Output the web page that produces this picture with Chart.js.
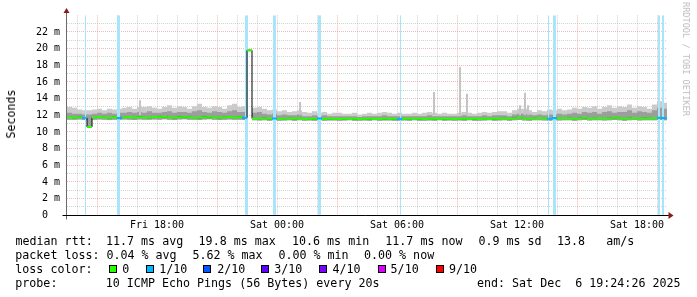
<!DOCTYPE html>
<html>
<head>
<meta charset="utf-8">
<script src="https://cdn.jsdelivr.net/npm/chart.js@4.4.1/dist/chart.umd.min.js"></script>
<style>
  body { margin: 0; background: #fff; }
  #wrap { position: relative; width: 697px; height: 297px; overflow: hidden; font-family: 'DejaVu Sans Mono', monospace; color: #000; }
  #c { position: absolute; left: 0; top: 0; }
  .t { position: absolute; font-size: 11.66px; line-height: 14px; white-space: pre; }
  .sq { position: absolute; top: 265px; width: 8px; height: 8px; border: 1px solid #000; box-sizing: border-box; }
  #ylab { position: absolute; left: 10.5px; top: 113.5px; font-size: 11.66px; white-space: pre;
          transform: translate(-50%, -50%) rotate(-90deg); }
  #wm { position: absolute; left: 686px; top: 59px; font-size: 8.6px; color: #bdbdbd; white-space: pre;
        transform: translate(-50%, -50%) rotate(90deg); }
</style>
</head>
<body>
<div id="wrap">
  <canvas id="c" width="697" height="297"></canvas>
  <div id="ylab">Seconds</div>
  <div id="wm">RRDTOOL / TOBI OETIKER</div>

  <div class="t" style="top:234px;left:15.5px">median rtt:</div>
  <div class="t" style="top:234px;left:106px">11.7 ms avg</div>
  <div class="t" style="top:234px;left:198.6px">19.8 ms max</div>
  <div class="t" style="top:234px;left:292px">10.6 ms min</div>
  <div class="t" style="top:234px;left:385.3px">11.7 ms now</div>
  <div class="t" style="top:234px;left:478.4px">0.9 ms sd</div>
  <div class="t" style="top:234px;left:557px">13.8</div>
  <div class="t" style="top:234px;left:606.3px">am/s</div>

  <div class="t" style="top:248px;left:15.3px">packet loss:</div>
  <div class="t" style="top:248px;left:106.4px">0.04 % avg</div>
  <div class="t" style="top:248px;left:192.4px">5.62 % max</div>
  <div class="t" style="top:248px;left:278.4px">0.00 % min</div>
  <div class="t" style="top:248px;left:364px">0.00 % now</div>

  <div class="t" style="top:262px;left:15.3px">loss color:</div>
  <div id="lossLegend"></div>

  <div class="t" style="top:276px;left:15.3px">probe:</div>
  <div class="t" style="top:276px;left:105.8px">10 ICMP Echo Pings (56 Bytes) every 20s</div>
  <div class="t" style="top:276px;left:477px">end: Sat Dec  6 19:24:26 2025</div>
</div>
<script>
// time axis in hours since Fri 00:00, one bucket = 15 min
const START = 13.5, END = 43.5, STEP = 0.25;
const Y_MAX = 24;

// median rtt per bucket (ms)
const median = [
  11.74, 11.70, 11.78, 11.68, 10.60, 11.72, 11.80, 11.74, 11.70, 11.76,
  11.66, 11.74, 11.80, 11.72, 11.78, 11.74, 11.70, 11.80, 11.76, 11.84,
  11.74, 11.70, 11.78, 11.82, 11.76, 11.72, 11.70, 11.78, 11.82, 11.74,
  11.70, 11.76, 11.80, 11.72, 11.76, 11.70, 19.80,
  11.62, 11.60, 11.66, 11.58, 11.62, 11.56, 11.60, 11.64, 11.58, 11.62,
  11.56, 11.60, 11.58, 11.62, 11.56, 11.58, 11.60, 11.56, 11.58, 11.62,
  11.58, 11.56, 11.60, 11.58, 11.62, 11.56, 11.58, 11.60, 11.58, 11.56,
  11.60, 11.58, 11.62, 11.58, 11.56, 11.60, 11.58, 11.62, 11.58, 11.60,
  11.56, 11.60, 11.58, 11.62, 11.58, 11.56, 11.60, 11.62, 11.58, 11.60,
  11.64, 11.60, 11.66, 11.72, 11.62, 11.60, 11.64, 11.68, 11.62, 11.60,
  11.66, 11.62, 11.68, 11.64, 11.60, 11.66, 11.70, 11.62, 11.64, 11.68,
  11.62, 11.66, 11.70, 11.64, 11.60, 11.66, 11.68, 11.62, 11.66, 11.64,
  11.68, 11.72, 11.66
];
// slowest ping per bucket
const pingMax = [
  13.0, 12.9, 12.7, 12.6, 12.6, 12.7, 12.8, 12.6, 12.8, 12.7,
  12.8, 12.9, 13.0, 12.8, 13.0, 13.0, 13.1, 12.9, 12.8, 13.0,
  13.2, 12.9, 13.1, 13.0, 12.8, 13.1, 13.4, 13.0, 12.9, 13.1,
  13.0, 12.8, 13.2, 13.4, 13.0, 13.1, 19.9,
  12.9, 13.0, 12.8, 12.6, 12.7, 12.5, 12.6, 12.4, 12.5, 12.6,
  12.4, 12.3, 12.5, 12.3, 12.4, 12.2, 12.3, 12.3, 12.2, 12.2,
  12.3, 12.1, 12.2, 12.3, 12.2, 12.3, 12.4, 12.3, 12.2, 12.3,
  12.2, 12.2, 12.3, 12.2, 12.3, 12.4, 12.3, 12.2, 12.3, 12.2,
  12.2, 12.3, 12.4, 12.3, 12.2, 12.3, 12.4, 12.3, 12.4, 12.5,
  12.5, 12.3, 12.6, 12.8, 12.8, 12.6, 12.4, 12.6, 12.5, 12.7,
  12.6, 12.8, 12.6, 12.7, 12.9, 12.8, 13.0, 12.9, 13.1, 12.8,
  13.0, 13.2, 12.9, 13.1, 13.0, 13.3, 12.9, 13.1, 13.0, 12.8,
  13.3, 13.7, 13.5
];
// upper edge of the dense part of the smoke
const pingUpper = [
  12.3, 12.2, 12.2, 12.1, 12.1, 12.2, 12.3, 12.2, 12.3, 12.2,
  12.3, 12.3, 12.4, 12.3, 12.4, 12.3, 12.5, 12.3, 12.3, 12.4,
  12.5, 12.3, 12.4, 12.4, 12.3, 12.5, 12.6, 12.4, 12.3, 12.5,
  12.4, 12.3, 12.5, 12.6, 12.4, 12.4, 19.85,
  12.3, 12.4, 12.2, 12.1, 12.2, 12.0, 12.1, 12.0, 12.0, 12.1,
  11.9, 11.9, 12.0, 11.9, 12.0, 11.9, 11.9, 11.9, 11.9, 11.9,
  11.9, 11.8, 11.9, 11.9, 11.9, 11.9, 12.0, 11.9, 11.9, 11.9,
  11.9, 11.9, 11.9, 11.9, 11.9, 12.0, 11.9, 11.9, 11.9, 11.9,
  11.9, 11.9, 12.0, 11.9, 11.9, 11.9, 12.0, 11.9, 12.0, 12.0,
  12.0, 11.9, 12.1, 12.2, 12.2, 12.1, 12.0, 12.1, 12.0, 12.1,
  12.1, 12.2, 12.1, 12.2, 12.3, 12.2, 12.4, 12.3, 12.4, 12.2,
  12.4, 12.5, 12.3, 12.4, 12.4, 12.6, 12.3, 12.5, 12.4, 12.3,
  12.6, 12.9, 12.8
];
// fastest ping per bucket
const pingMin = [
  11.48, 11.46, 11.50, 11.44, 10.50, 11.46, 11.50, 11.48, 11.44, 11.48,
  11.46, 11.50, 11.48, 11.44, 11.50, 11.46, 11.48, 11.50, 11.46, 11.52,
  11.48, 11.44, 11.50, 11.52, 11.46, 11.48, 11.44, 11.50, 11.52, 11.46,
  11.44, 11.48, 11.50, 11.46, 11.48, 11.44, 19.70,
  11.40, 11.38, 11.42, 11.36, 11.40, 11.36, 11.38, 11.42, 11.36, 11.40,
  11.36, 11.38, 11.36, 11.40, 11.36, 11.38, 11.38, 11.36, 11.38, 11.40,
  11.36, 11.36, 11.38, 11.36, 11.40, 11.36, 11.38, 11.38, 11.36, 11.36,
  11.38, 11.36, 11.40, 11.36, 11.36, 11.38, 11.36, 11.40, 11.36, 11.38,
  11.36, 11.38, 11.36, 11.40, 11.36, 11.36, 11.38, 11.40, 11.36, 11.38,
  11.40, 11.36, 11.42, 11.44, 11.38, 11.36, 11.40, 11.42, 11.38, 11.36,
  11.42, 11.38, 11.42, 11.40, 11.36, 11.42, 11.44, 11.38, 11.40, 11.42,
  11.38, 11.42, 11.44, 11.40, 11.36, 11.42, 11.44, 11.38, 11.42, 11.40,
  11.42, 11.44, 11.40
];
// single slow pings sticking out of the smoke
const outlierTimes  = [17.15, 25.15, 31.85, 33.15, 33.5, 36.15, 36.4, 36.55];
const outlierValues = [13.8, 13.6, 14.8, 17.8, 14.6, 13.2, 14.7, 13.2];
// packet loss events (1/10 lost), time and duration in minutes
const lossTimes   = [14.425, 16.075, 22.475, 23.875, 26.125, 30.175, 37.575, 37.875, 43.1, 43.3];
const lossMinutes = [3, 9, 9, 9, 9, 3, 3, 9, 6, 6];

const xTickHours  = [18, 24, 30, 36, 42];
const xTickLabels = ['Fri 18:00', 'Sat 00:00', 'Sat 06:00', 'Sat 12:00', 'Sat 18:00'];
const yTickValues = [0, 2, 4, 6, 8, 10, 12, 14, 16, 18, 20, 22];

const lossNames  = ['0', '1/10', '2/10', '3/10', '4/10', '5/10', '9/10'];
const lossColors = ['#26ff00', '#00b8ff', '#0059ff', '#5e00ff', '#7e00ff', '#dd00ff', '#ff0000'];

// loss colour legend
const sqLeft = [109, 146, 203, 261, 319, 378, 436];
const lbLeft = [122.3, 159.2, 217.2, 274.2, 332.5, 390.6, 449];
const legendBox = document.getElementById('lossLegend');
lossNames.forEach((n, i) => {
  const sq = document.createElement('div');
  sq.className = 'sq';
  sq.style.left = sqLeft[i] + 'px';
  sq.style.background = lossColors[i];
  legendBox.appendChild(sq);
  const lb = document.createElement('div');
  lb.className = 't';
  lb.style.top = '262px';
  lb.style.left = lbLeft[i] + 'px';
  lb.textContent = n;
  legendBox.appendChild(lb);
});

const bucketTimes = median.map((_, i) => START + STEP * (i + 0.5));
const span = (lo, hi) => lo.map((v, i) => ({x: bucketTimes[i], y: [v, hi[i]]}));
const medianColors = bucketTimes.map(t =>
  lossTimes.some(l => Math.abs(l - t) < STEP / 2) ? lossColors[1] : lossColors[0]);

const MAJOR = 'rgba(225,90,90,0.42)';
const MINOR = 'rgba(140,140,140,0.38)';
const PX_PER_MIN = 1 / 3;

const lossSets = [...new Set(lossMinutes)].map(m => ({
  type: 'bar',
  data: lossTimes.filter((t, i) => lossMinutes[i] === m).map(t => ({x: t, y: [0, Y_MAX]})),
  backgroundColor: '#a8e4fa',
  barThickness: m * PX_PER_MIN,
  grouped: false,
  inflateAmount: 0,
  order: 3
}));

const rrdAxes = {
  id: 'rrdAxes',
  afterDatasetsDraw(chart) {
    const {ctx, chartArea: a} = chart;
    const x0 = Math.round(a.left) - 0.5, y0 = Math.round(a.bottom) + 0.5;
    ctx.save();
    ctx.lineWidth = 1;
    ctx.strokeStyle = '#6a6a6a';
    ctx.beginPath(); ctx.moveTo(x0, y0 + 4); ctx.lineTo(x0, 12); ctx.stroke();
    ctx.strokeStyle = '#000';
    ctx.beginPath(); ctx.moveTo(x0 - 4, y0); ctx.lineTo(a.right + 2, y0); ctx.stroke();
    ctx.fillStyle = '#8b1a1a';
    ctx.beginPath(); ctx.moveTo(x0 - 3, 13); ctx.lineTo(x0 + 3, 13); ctx.lineTo(x0, 8); ctx.closePath(); ctx.fill();
    ctx.beginPath(); ctx.moveTo(a.right + 1.5, y0 - 3.5); ctx.lineTo(a.right + 1.5, y0 + 3.5); ctx.lineTo(a.right + 6.5, y0); ctx.closePath(); ctx.fill();
    ctx.restore();
  }
};

Chart.defaults.font.family = "'DejaVu Sans Mono', monospace";
Chart.defaults.font.size = 10;
Chart.defaults.color = '#000';

new Chart(document.getElementById('c'), {
  type: 'bar',
  data: {
    datasets: [
      {
        data: span(pingMin, pingMax),
        backgroundColor: '#cbcbcb',
        barThickness: 5, grouped: false, inflateAmount: 0, order: 6
      },
      {
        data: span(pingMin, pingUpper),
        backgroundColor: '#9d9d9d',
        barThickness: 5, grouped: false, inflateAmount: 0, order: 5
      },
      {
        data: outlierTimes.map((t, i) => ({x: t, y: [12, outlierValues[i]]})),
        backgroundColor: '#c4c4c4',
        barThickness: 2, grouped: false, inflateAmount: 0, order: 4
      },
      ...lossSets,
      {
        type: 'line',
        data: median.map((v, i) => ({x: bucketTimes[i], y: v})),
        borderColor: '#000', borderWidth: 1, stepped: 'middle',
        pointRadius: 0, order: 1
      },
      {
        type: 'line',
        data: median.map((v, i) => ({x: bucketTimes[i], y: v})),
        showLine: false, pointStyle: 'line', pointRadius: 2.5, pointBorderWidth: 2,
        pointBorderColor: medianColors, pointBackgroundColor: medianColors, order: 0
      }
    ]
  },
  options: {
    responsive: false,
    animation: false,
    events: [],
    layout: {padding: {left: 0, right: 30, top: 15.3, bottom: 61.7}},
    plugins: {legend: {display: false}, tooltip: {enabled: false}},
    scales: {
      x: {
        type: 'linear', min: START, max: END, offset: false,
        afterBuildTicks(s) {
          s.ticks = [];
          for (let h = Math.ceil(START); h <= END; h++) s.ticks.push({value: h});
        },
        afterFit(s) { s.height = 20; },
        grid: {
          offset: false, drawTicks: false,
          color: c => ((c.tick.value - 15) % 6 === 0 ? MAJOR : MINOR)
        },
        border: {display: false, dash: [1, 1]},
        ticks: {
          autoSkip: false, maxRotation: 0, padding: 4,
          callback: v => { const k = xTickHours.indexOf(v); return k < 0 ? '' : xTickLabels[k]; }
        }
      },
      y: {
        min: 0, max: Y_MAX,
        afterBuildTicks(s) {
          s.ticks = [];
          for (let v = 0; v <= Y_MAX; v++) s.ticks.push({value: v});
        },
        afterFit(s) { s.width = 67; },
        grid: {
          drawTicks: false,
          color: c => (c.tick.value === Y_MAX ? 'rgba(0,0,0,0)' : (c.tick.value % 2 === 0 ? MAJOR : MINOR))
        },
        border: {display: false, dash: [1, 1]},
        ticks: {
          autoSkip: false, padding: 7,
          callback: v => (yTickValues.includes(v) ? (v === 0 ? '0  ' : v + ' m') : '')
        }
      }
    }
  },
  plugins: [rrdAxes]
});
</script>
</body>
</html>
